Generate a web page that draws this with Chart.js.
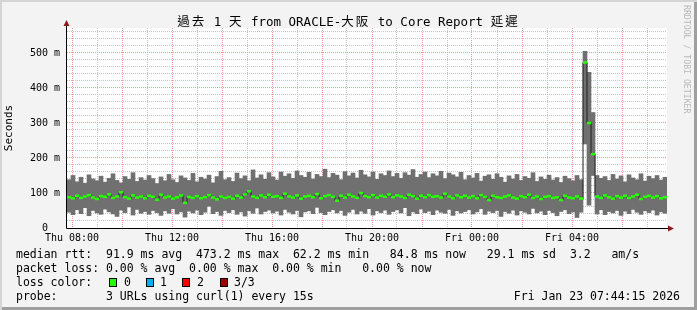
<!DOCTYPE html>
<html lang="zh-Hant">
<head>
<meta charset="UTF-8">
<title>SmokePing ORACLE-大阪</title>
<script src="https://cdn.jsdelivr.net/npm/chart.js@4.4.1/dist/chart.umd.min.js"></script>
<style>
*{margin:0;padding:0;box-sizing:border-box;}
body{background:#f3f3f3;}
#wrap{
    position:relative;width:697px;height:310px;background:#f3f3f3;
    box-shadow:inset 2px 2px 0 #d4d4d4, inset -3px -3px 0 #9f9f9f;
    font-family:"DejaVu Sans Mono","Noto Sans CJK TC",monospace;color:#000;
}
#chart{position:absolute;left:0;top:0;}
#title{position:absolute;left:0;top:14px;width:697px;text-align:center;font-size:12.5px;line-height:16px;}
#title .cjk{letter-spacing:2px;}
#mark{position:absolute;left:682px;top:5px;writing-mode:vertical-rl;font-size:8.2px;line-height:10px;color:#b8b8b8;}
.row{position:absolute;left:16px;font-size:11.5px;line-height:14px;white-space:pre;}
.lbl{position:absolute;font-size:11.5px;line-height:14px;white-space:pre;}
.box{position:absolute;width:8px;height:9px;border:1px solid #000;}
</style>
</head>
<body>
<div id="wrap">
    <canvas id="chart" width="697" height="310"></canvas>
    <div id="title"><span class="cjk">過去</span> 1 <span class="cjk">天</span> from ORACLE-<span class="cjk">大阪</span> to Core Report <span class="cjk">延遲</span></div>
    <div id="mark">RRDTOOL / TOBI OETIKER</div>
    <div class="row" style="top:247px">median rtt:  91.9 ms avg  473.2 ms max  62.2 ms min   84.8 ms now   29.1 ms sd  3.2   am/s</div>
    <div class="row" style="top:261px">packet loss: 0.00 % avg  0.00 % max  0.00 % min   0.00 % now</div>
    <div class="row" style="top:275px">loss color:</div>
    <span class="box" style="left:109px;top:278px;background:#26ff00"></span><span class="lbl" style="left:124px;top:275px">0</span>
    <span class="box" style="left:146px;top:278px;background:#00b0f0"></span><span class="lbl" style="left:160px;top:275px">1</span>
    <span class="box" style="left:182px;top:278px;background:#ff0000"></span><span class="lbl" style="left:197px;top:275px">2</span>
    <span class="box" style="left:220px;top:278px;background:#a00000"></span><span class="lbl" style="left:234px;top:275px">3/3</span>
    <div class="row" style="top:289px">probe:       3 URLs using curl(1) every 15s</div>
    <div class="lbl" style="right:17px;top:289px">Fri Jan 23 07:44:15 2026</div>
</div>
<script>
// 時間軸: 左端 Thu 07:48, 每筆 9.6 分鐘
const startHour = 7.8;
const stepHours = 0.16;

// smoke 上緣 (ms)
const smokeHigh = [
    138,150,132,145,128,152,140,135,148,131,
    142,155,136,129,147,139,158,133,144,137,
    150,141,127,146,135,153,138,130,149,143,
    136,156,132,145,140,151,129,147,162,138,
    144,133,157,141,149,135,166,143,152,139,
    158,146,137,160,148,155,142,163,150,145,
    159,140,153,147,168,144,156,151,138,161,
    149,157,143,165,152,146,160,139,155,150,
    163,147,156,142,158,151,167,145,153,160,
    144,155,149,162,141,157,152,146,159,138,
    150,143,156,134,148,152,139,155,145,131,
    149,140,153,136,147,142,158,133,146,139,
    151,137,144,130,148,141,135,150,138,505,
    445,330,150,142,147,136,153,140,149,132,
    152,143,138,155,134,148,141,150,137,145
];
// smoke 下緣 (ms)
const smokeLow = [
    45,38,52,41,58,35,50,43,39,54,
    46,40,33,51,44,60,37,53,42,47,
    39,50,44,36,49,42,55,40,46,31,
    48,43,51,38,45,62,41,47,36,50,
    44,52,39,46,34,49,42,57,40,47,
    51,43,48,37,53,45,40,50,32,46,
    49,41,59,44,38,47,52,43,50,36,
    45,53,40,48,42,55,37,49,44,51,
    39,47,52,43,58,35,46,41,54,44,
    48,38,51,45,42,53,36,49,43,47,
    52,40,46,55,39,48,44,50,33,47,
    42,51,37,49,45,40,56,43,48,38,
    50,44,35,47,52,41,46,30,45,240,
    65,150,40,52,38,47,43,50,36,48,
    41,53,45,39,49,44,51,37,46,42
];
// median rtt (ms)
const medianRtt = [
    88,85,92,86,90,94,87,83,91,89,
    96,86,90,102,88,84,93,87,90,85,
    92,89,81,95,87,90,84,88,93,72,
    89,86,91,85,88,94,87,82,90,86,
    89,84,92,87,96,105,90,86,93,88,
    95,89,91,86,98,90,87,93,84,90,
    92,88,97,85,91,94,89,78,92,87,
    95,90,86,100,91,88,94,87,92,89,
    96,88,93,90,86,95,91,84,92,88,
    94,89,91,87,98,90,85,93,88,92,
    87,91,85,94,89,80,92,88,86,90,
    93,87,84,91,88,95,86,90,83,89,
    91,86,88,80,92,87,85,90,84,473,
    300,211,90,86,93,88,84,91,87,92,
    86,90,95,83,89,92,87,91,85,88
];

const xTickHours = [8, 12, 16, 20, 24, 28];
const xTickLabels = ['Thu 08:00','Thu 12:00','Thu 16:00','Thu 20:00','Fri 00:00','Fri 04:00'];
const yTickValues = [0, 100, 200, 300, 400, 500];
const yTickLabels = ['0  ','100 m','200 m','300 m','400 m','500 m'];

const majorGrid = '#ec9a9a';
const minorGrid = '#c4c4c4';
const monoFont = 'DejaVu Sans Mono';

let hours = medianRtt.map(function(v, i){ return startHour + stepHours * (i + 0.5); });
let smokeData = hours.map(function(h, i){ return {x:h, y:[smokeLow[i], smokeHigh[i]]}; });
let medLine = hours.map(function(h, i){ return {x:h, y:medianRtt[i]}; });

// 白底 + 軸線箭頭
const frame = {
    id:'frame',
    beforeDraw(chart){
        const a = chart.chartArea, c = chart.ctx;
        c.save();
        c.fillStyle = '#fff';
        c.fillRect(a.left, a.top, a.right - a.left, a.bottom - a.top);
        c.restore();
    },
    afterDraw(chart){
        const a = chart.chartArea, c = chart.ctx;
        const x0 = a.left - 0.5, y0 = a.bottom + 0.5;
        c.save();
        c.strokeStyle = '#000';
        c.lineWidth = 1;
        c.beginPath();
        c.moveTo(x0, y0); c.lineTo(x0, a.top - 2);
        c.moveTo(x0, y0); c.lineTo(a.right + 2, y0);
        c.stroke();
        c.fillStyle = '#8b1a1a';
        c.beginPath();
        c.moveTo(x0 - 3, a.top - 2); c.lineTo(x0 + 3, a.top - 2); c.lineTo(x0, a.top - 8);
        c.closePath(); c.fill();
        c.beginPath();
        c.moveTo(a.right + 1, y0 - 3); c.lineTo(a.right + 1, y0 + 3); c.lineTo(a.right + 7, y0);
        c.closePath(); c.fill();
        c.restore();
    }
};

new Chart(document.getElementById('chart'), {
    type:'bar',
    data:{
        datasets:[
            {type:'bar', data:smokeData, backgroundColor:'#707070', borderWidth:0,
             barPercentage:1, categoryPercentage:1, order:3},
            {type:'line', data:medLine, borderColor:'#202020', borderWidth:1,
             pointRadius:0, stepped:'middle', order:2},
            // 綠色 = 0 loss, 每筆一小段水平線
            {type:'line', data:medLine, showLine:false, pointStyle:'line',
             pointRadius:2.1, pointBorderWidth:2.5, pointBorderColor:'#26ff00',
             pointBackgroundColor:'#26ff00', order:1}
        ]
    },
    options:{
        responsive:false,
        animation:false,
        devicePixelRatio:1,
        layout:{padding:{top:28, right:30, left:0, bottom:0}},
        plugins:{legend:{display:false}, tooltip:{enabled:false}, title:{display:false}},
        scales:{
            x:{
                type:'linear', min:startHour, max:startHour + 24, offset:false,
                afterFit(s){ s.height = 82; },
                afterBuildTicks(s){
                    s.ticks = [];
                    for(let h = Math.ceil(s.min); h <= s.max; h++) s.ticks.push({value:h});
                },
                ticks:{
                    autoSkip:false, maxRotation:0, padding:4, color:'#000',
                    font:{family:monoFont, size:10},
                    callback(v){
                        const k = xTickHours.indexOf(Math.round(v));
                        return k < 0 ? '' : xTickLabels[k];
                    }
                },
                grid:{drawTicks:false, offset:false,
                    color(c){ return Math.round(c.tick.value) % 2 === 0 ? majorGrid : minorGrid; }},
                border:{display:false, dash:[1,1]}
            },
            y:{
                min:0, max:571.4,
                afterFit(s){ s.width = 67; },
                afterBuildTicks(s){
                    s.ticks = [];
                    for(let v = 0; v <= s.max; v += 20) s.ticks.push({value:v});
                },
                ticks:{
                    autoSkip:false, padding:7, color:'#000',
                    font:{family:monoFont, size:10},
                    callback(v){
                        const k = yTickValues.indexOf(Math.round(v));
                        return k < 0 ? '' : yTickLabels[k];
                    }
                },
                grid:{drawTicks:false,
                    color(c){ return Math.round(c.tick.value) % 100 === 0 ? majorGrid : minorGrid; }},
                border:{display:false, dash:[1,1]},
                title:{display:true, text:'Seconds', color:'#000',
                    font:{family:monoFont, size:11}, padding:{top:3, bottom:0}}
            }
        }
    },
    plugins:[frame]
});
</script>
</body>
</html>
